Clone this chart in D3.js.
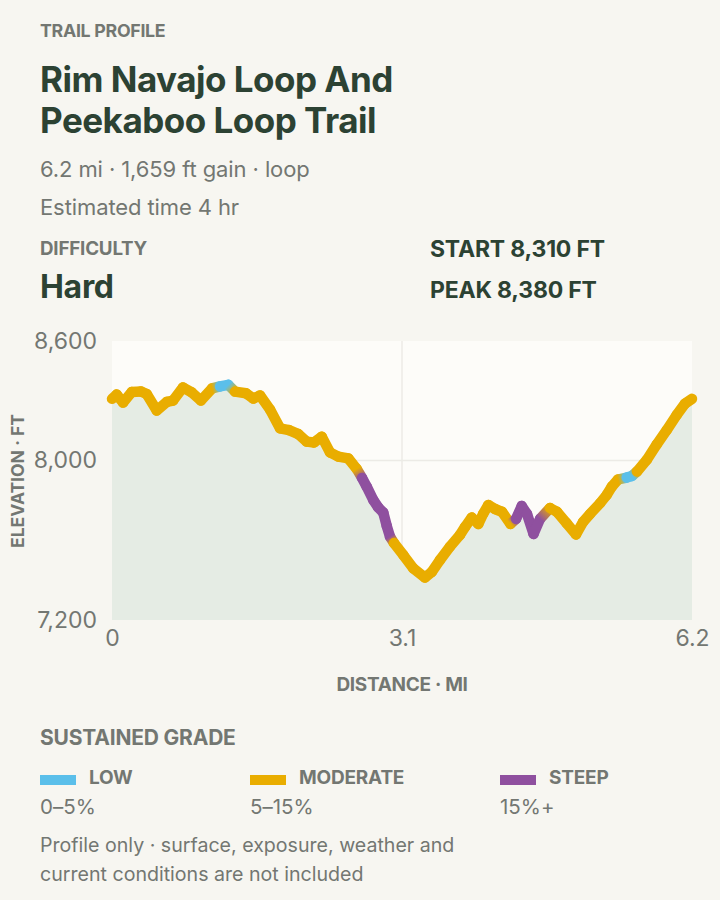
<!DOCTYPE html>
<html><head><meta charset="utf-8">
<script src="https://cdn.jsdelivr.net/npm/d3@7"></script>
<style>
html,body{margin:0;padding:0;background:#F7F6F1;}
svg{display:block;font-family:Inter,"Noto Sans",sans-serif;font-feature-settings:"calt" 0;}
</style></head>
<body><svg id="c" width="720" height="900"></svg>
<script>
// distance along trail (mi)
const distances = [0.000,0.050,0.118,0.211,0.310,0.371,0.478,0.585,0.652,0.759,0.852,0.951,1.069,1.155,1.243,1.315,1.432,1.510,1.582,1.689,1.796,1.892,1.992,2.081,2.159,2.242,2.330,2.419,2.526,2.616,2.673,2.723,2.793,2.843,2.900,2.937,2.972,3.014,3.114,3.221,3.346,3.418,3.506,3.613,3.720,3.774,3.845,3.916,3.969,4.023,4.094,4.169,4.260,4.319,4.380,4.436,4.506,4.575,4.682,4.757,4.861,4.960,5.035,5.110,5.217,5.288,5.342,5.409,5.502,5.559,5.612,5.716,5.823,5.930,6.037,6.125,6.200];
// elevation (ft)
const elevations = [8310,8331,8291,8344,8347,8334,8251,8294,8301,8367,8342,8301,8362,8372,8380,8346,8338,8311,8327,8256,8162,8153,8133,8095,8091,8120,8041,8020,8011,7958,7913,7869,7802,7767,7739,7672,7618,7586,7526,7459,7413,7441,7501,7568,7627,7667,7714,7682,7734,7777,7757,7743,7682,7707,7772,7732,7632,7707,7762,7743,7685,7629,7692,7732,7786,7827,7869,7905,7915,7923,7945,8003,8081,8153,8229,8286,8310];
// sustained grade class per point: L low, M moderate, S steep
const grades = ["M","M","M","M","M","M","M","M","M","M","M","M","M","L","L","M","M","M","M","M","M","M","M","M","M","M","M","M","M","M","S","S","S","S","S","S","S","M","M","M","M","M","M","M","M","M","M","M","M","M","M","M","M","S","S","S","S","S","M","M","M","M","M","M","M","M","M","M","L","L","M","M","M","M","M","M","M"];
const xTicks = [0, 3.1, 6.2];
const yTicks = [7200, 8000, 8600];
const legendKeys = ["L","M","S"];
const legendNames = ["LOW","MODERATE","STEEP"];
const legendRanges = ["0–5%","5–15%","15%+"];
const gradeColors = {L:"#5BBFEA", M:"#E9AD00", S:"#8F509F"};

const svg = d3.select("#c");
const ink = "#2C4233", gray = "#737772";

const T = (x,y,txt,size,weight,fill,extra) => {
  const t = svg.append("text").attr("x",x).attr("y",y).text(txt)
    .attr("font-size",size).attr("font-weight",weight).attr("fill",fill);
  if (extra) extra(t);
  return t;
};
T(40,37,"TRAIL PROFILE",17.8,700,gray,t=>t.attr("letter-spacing",-0.3));
T(40,92,"Rim Navajo Loop And",35,700,ink,t=>t.attr("letter-spacing",-0.5));
T(40,133,"Peekaboo Loop Trail",35,700,ink,t=>t.attr("letter-spacing",-0.5));
T(40,176.5,"6.2 mi · 1,659 ft gain · loop",22,400,gray,t=>t.attr("letter-spacing",-0.1));
T(40,215,"Estimated time 4 hr",22,400,gray,t=>t.attr("letter-spacing",-0.1));
T(40,255,"DIFFICULTY",18.8,700,gray,t=>t.attr("letter-spacing",-0.2));
T(40,298,"Hard",32,700,ink,t=>t.attr("letter-spacing",-0.3));
T(430,257,"START 8,310 FT",23,700,ink,t=>t.attr("letter-spacing",-0.2));
T(430,298,"PEAK 8,380 FT",23,700,ink,t=>t.attr("letter-spacing",-0.2));

// chart
const m = {l:112, r:692, t:341, b:620};
const x = d3.scaleLinear().domain([0,6.2]).range([m.l,m.r]);
const y = d3.scaleLinear().domain([7200,8600]).range([m.b,m.t]);

svg.append("rect").attr("x",m.l).attr("y",m.t).attr("width",m.r-m.l).attr("height",m.b-m.t).attr("fill","#FDFCF9");
svg.append("g").selectAll("line").data(yTicks.filter(v=>v>7200 && v<8600)).join("line")
  .attr("x1",m.l).attr("x2",m.r).attr("y1",d=>y(d)).attr("y2",d=>y(d)).attr("stroke","#ECEBE6").attr("stroke-width",1.5);
svg.append("g").selectAll("line").data(xTicks.filter(v=>v>0 && v<6.2)).join("line")
  .attr("y1",m.t).attr("y2",m.b).attr("x1",d=>x(d)).attr("x2",d=>x(d)).attr("stroke","#ECEBE6").attr("stroke-width",1.5);

const pts = distances.map((d,i)=>({d, e:elevations[i], g:grades[i]}));
const area = d3.area().x(p=>x(p.d)).y0(y(7200)).y1(p=>y(p.e));
svg.append("path").attr("d",area(pts)).attr("fill","#E5ECE4");

const yAxis = d3.axisLeft(y).tickValues(yTicks).tickFormat(d3.format(",")).tickSize(0).tickPadding(15);
const gy = svg.append("g").attr("transform",`translate(${m.l},0)`).call(yAxis);
gy.select(".domain").remove();
gy.selectAll("text").attr("font-size",23).attr("fill",gray).attr("font-family","Inter,sans-serif");
const xAxis = d3.axisBottom(x).tickValues(xTicks).tickFormat(d=>d===0?"0":d3.format(".1f")(d)).tickSize(0).tickPadding(10);
const gx = svg.append("g").attr("transform",`translate(0,${m.b})`).call(xAxis);
gx.select(".domain").remove();
gx.selectAll("text").attr("font-size",23).attr("fill",gray).attr("font-family","Inter,sans-serif");

T((m.l+m.r)/2,691,"DISTANCE · MI",19,700,gray,t=>t.attr("text-anchor","middle").attr("letter-spacing",-0.3));
T(0,0,"ELEVATION · FT",17.5,700,gray,t=>t.attr("text-anchor","middle").attr("transform","translate(24,481) rotate(-90)"));

const defs = svg.append("defs");
const lineG = svg.append("g");
for (let i=0;i<pts.length-1;i++){
  const a=pts[i], b=pts[i+1];
  const x1=x(a.d), y1=y(a.e), x2=x(b.d), y2=y(b.e);
  let stroke = gradeColors[a.g];
  if (a.g!==b.g){
    const id="g"+i;
    const lg=defs.append("linearGradient").attr("id",id).attr("gradientUnits","userSpaceOnUse")
      .attr("x1",x1).attr("y1",y1).attr("x2",x2).attr("y2",y2);
    lg.append("stop").attr("offset","0%").attr("stop-color",gradeColors[a.g]);
    lg.append("stop").attr("offset","100%").attr("stop-color",gradeColors[b.g]);
    stroke=`url(#${id})`;
  }
  lineG.append("line").attr("x1",x1).attr("y1",y1).attr("x2",x2).attr("y2",y2)
    .attr("stroke",stroke).attr("stroke-width",10.5).attr("stroke-linecap","round");
}

// legend
T(40,745,"SUSTAINED GRADE",21,700,gray,t=>t.attr("letter-spacing",-0.2));
const lx = [40,250,500];
const lg = svg.append("g").selectAll("g").data(legendKeys).join("g").attr("transform",(d,i)=>`translate(${lx[i]},0)`);
lg.append("rect").attr("x",0).attr("y",775).attr("width",36).attr("height",10).attr("fill",d=>gradeColors[d]);
lg.append("text").attr("x",49).attr("y",784).text((d,i)=>legendNames[i]).attr("font-size",19).attr("font-weight",700).attr("fill",gray).attr("letter-spacing",-0.2);
lg.append("text").attr("x",0).attr("y",814).text((d,i)=>legendRanges[i]).attr("font-size",20.5).attr("fill",gray);

T(40,852,"Profile only · surface, exposure, weather and",19.6,400,gray);
T(40,881,"current conditions are not included",19.6,400,gray);
</script></body></html>
